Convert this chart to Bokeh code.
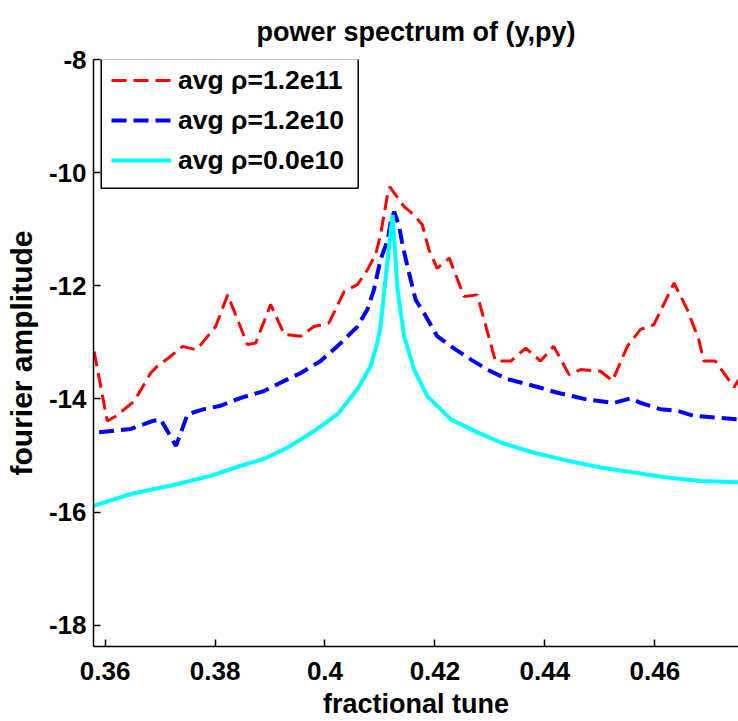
from bokeh.plotting import figure
from bokeh.models import Range1d, FixedTicker, Legend, LegendItem, BoxAnnotation
from bokeh.embed import file_html
from bokeh.resources import INLINE

# ---- data ----
red_x = [0.3580, 0.3604, 0.3620, 0.3653, 0.3683, 0.3695, 0.3716, 0.3741, 0.3765, 0.3774,
         0.3801, 0.3823, 0.3841, 0.3859, 0.3874, 0.3901, 0.3926, 0.3956, 0.3980, 0.4007,
         0.4035, 0.4059, 0.4077, 0.4092, 0.4101, 0.4114, 0.4118, 0.4129, 0.4144, 0.4162,
         0.4177, 0.4189, 0.4204, 0.4226, 0.4253, 0.4277, 0.4310, 0.4338, 0.4365, 0.4392,
         0.4416, 0.4444, 0.4465, 0.4501, 0.4523, 0.4550, 0.4574, 0.4598, 0.4635, 0.4659,
         0.4680, 0.4689, 0.4710, 0.4744, 0.4756]
red_y = [-13.16, -14.39, -14.30, -14.04, -13.54, -13.42, -13.27, -13.07, -13.13, -13.04,
         -12.72, -12.16, -12.60, -13.04, -13.01, -12.33, -12.86, -12.89, -12.72, -12.66,
         -12.10, -11.98, -11.72, -11.45, -11.10, -10.37, -10.25, -10.40, -10.60, -10.75,
         -10.92, -11.36, -11.69, -11.51, -12.19, -12.16, -13.33, -13.33, -13.10, -13.33,
         -13.07, -13.57, -13.48, -13.51, -13.68, -13.07, -12.77, -12.69, -11.95, -12.42,
         -12.95, -13.33, -13.33, -13.79, -13.62]

blue_x = [0.3589, 0.3647, 0.3686, 0.3701, 0.3729, 0.3750, 0.3780, 0.3810, 0.3847, 0.3889,
          0.3926, 0.3956, 0.3992, 0.4029, 0.4059, 0.4077, 0.4089, 0.4101, 0.4114, 0.4120,
          0.4126, 0.4135, 0.4141, 0.4153, 0.4165, 0.4180, 0.4204, 0.4229, 0.4265, 0.4295,
          0.4332, 0.4380, 0.4423, 0.4477, 0.4526, 0.4556, 0.4574, 0.4610, 0.4641, 0.4671,
          0.4714, 0.4752]
blue_y = [-14.59, -14.53, -14.39, -14.36, -14.83, -14.27, -14.18, -14.12, -13.98, -13.86,
          -13.68, -13.54, -13.33, -13.01, -12.72, -12.42, -12.07, -11.54, -11.19, -10.84,
          -10.69, -10.95, -11.28, -11.78, -12.25, -12.48, -12.89, -13.07, -13.30, -13.48,
          -13.65, -13.77, -13.89, -14.01, -14.07, -13.99, -14.07, -14.18, -14.21, -14.30,
          -14.33, -14.36]

cyan_x = [0.3579, 0.3647, 0.3720, 0.3792, 0.3847, 0.3889, 0.3932, 0.3980, 0.4023, 0.4059,
          0.4083, 0.4095, 0.4101, 0.4110, 0.4120, 0.4123, 0.4132, 0.4144, 0.4162, 0.4186,
          0.4229, 0.4277, 0.4320, 0.4380, 0.4441, 0.4501, 0.4562, 0.4623, 0.4683, 0.4752]
cyan_y = [-15.89, -15.68, -15.53, -15.36, -15.18, -15.06, -14.86, -14.57, -14.27, -13.83,
          -13.42, -13.01, -12.72, -11.89, -11.01, -10.75, -12.07, -12.89, -13.48, -13.95,
          -14.36, -14.59, -14.77, -14.95, -15.09, -15.21, -15.30, -15.39, -15.45, -15.47]

title_text = "power spectrum of (y,py)"
labels = ["avg \u03c1=1.2e11", "avg \u03c1=1.2e10", "avg \u03c1=0.0e10"]
x_ticks = [0.36, 0.38, 0.40, 0.42, 0.44, 0.46]
x_tick_labels = ["0.36", "0.38", "0.4", "0.42", "0.44", "0.46"]
y_ticks = [-18, -16, -14, -12, -10, -8]
y_tick_labels = ["-18", "-16", "-14", "-12", "-10", "-8"]

FONT = "Liberation Sans"

p = figure(width=738, height=721, output_backend="svg", toolbar_location=None,
           x_range=Range1d(0.35789, 0.47522), y_range=Range1d(-18.375, -8.0),
           min_border_left=93, min_border_right=0, min_border_top=59, min_border_bottom=73,
           title=title_text)
p.outline_line_alpha = 0
p.xgrid.visible = False
p.ygrid.visible = False
p.background_fill_color = "white"
p.border_fill_color = "white"

p.title.text_font = FONT
p.title.text_font_size = "27px"
p.title.text_font_style = "bold"
p.title.text_color = "black"
p.title.align = "center"
p.title.standoff = 26

for ax in (p.xaxis[0], p.yaxis[0]):
    ax.axis_line_color = "black"
    ax.axis_line_width = 1.5
    ax.major_tick_line_color = "black"
    ax.major_tick_line_width = 1.5
    ax.major_tick_in = 7
    ax.major_tick_out = 0
    ax.minor_tick_line_color = None
    ax.major_label_text_font = FONT
    ax.major_label_text_font_style = "bold"
    ax.major_label_text_font_size = "26px"
    ax.major_label_text_color = "black"
    ax.axis_label_text_font = FONT
    ax.axis_label_text_font_style = "bold"
    ax.axis_label_text_color = "black"

p.xaxis[0].ticker = FixedTicker(ticks=x_ticks)
p.xaxis[0].major_label_overrides = dict(zip(x_ticks, x_tick_labels))
p.xaxis[0].axis_label = "fractional tune"
p.xaxis[0].axis_label_text_font_size = "27px"
p.xaxis[0].major_label_standoff = 15
p.xaxis[0].axis_label_standoff = 6

p.yaxis[0].ticker = FixedTicker(ticks=y_ticks)
p.yaxis[0].major_label_overrides = dict(zip(y_ticks, y_tick_labels))
p.yaxis[0].axis_label = "fourier amplitude"
p.yaxis[0].axis_label_text_font_size = "30px"
p.yaxis[0].major_label_standoff = 7
p.yaxis[0].axis_label_standoff = 8

r1 = p.line(red_x, red_y, line_color="#ff0000", line_width=3, line_dash="15 7")
r2 = p.line(blue_x, blue_y, line_color="#0000ff", line_width=4, line_dash="15 7")
r3 = p.line(cyan_x, cyan_y, line_color="#00ffff", line_width=4)

legend = Legend(items=[LegendItem(label=labels[0], renderers=[r1]),
                       LegendItem(label=labels[1], renderers=[r2]),
                       LegendItem(label=labels[2], renderers=[r3])],
                location=(18, 466), orientation="vertical",
                padding=0, spacing=0, margin=0,
                glyph_width=60, glyph_height=40, label_height=40,
                label_standoff=7,
                border_line_alpha=0, background_fill_alpha=0,
                label_text_font=FONT, label_text_font_style="bold",
                label_text_font_size="26.5px", label_text_color="black")
p.add_layout(legend, "center")

box = BoxAnnotation(left=100.7, right=357.7, top=58.3, bottom=187.7,
                    left_units="canvas", right_units="canvas",
                    top_units="canvas", bottom_units="canvas",
                    fill_alpha=0, line_color="black", line_width=1.5, line_alpha=1)
p.add_layout(box)

open("out.html", "w").write(file_html(p, INLINE))
